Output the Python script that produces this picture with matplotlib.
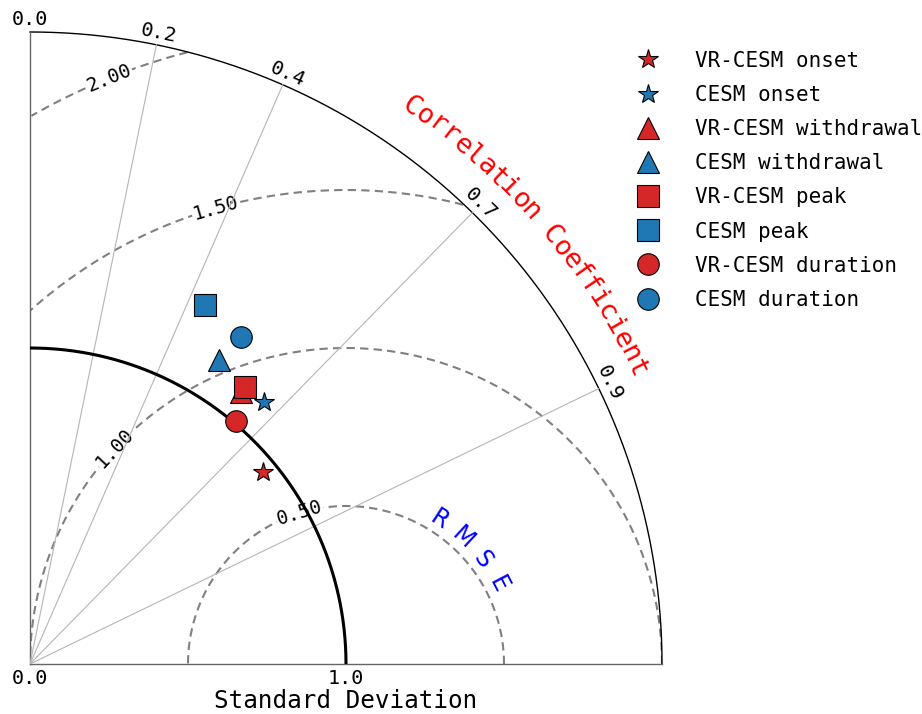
import numpy as np
import matplotlib.pyplot as plt

# Data
labels = ['VR-CESM onset', 'CESM onset',
          'VR-CESM withdrawal', 'CESM withdrawal',
          'VR-CESM peak', 'CESM peak',
          'VR-CESM duration', 'CESM duration']
std_vals = [0.955, 1.113, 1.089, 1.132, 1.110, 1.263, 1.009, 1.233]
corr_vals = [0.772, 0.666, 0.612, 0.529, 0.612, 0.439, 0.646, 0.542]
colors = ['#d62728', '#1f77b4'] * 4
markers = ['*', '*', '^', '^', 's', 's', 'o', 'o']

corr_ticks = [0.0, 0.2, 0.4, 0.7, 0.9]
rmse_levels = [0.5, 1.0, 1.5, 2.0]
rmse_label_angles = [107, 137, 106, 112]  # where the labels sit on each contour (deg)
std_max = 2.0
ref_std = 1.0

plt.rcParams['font.family'] = 'DejaVu Sans Mono'

fig = plt.figure(figsize=(9.22, 7.14), dpi=100)
ax = fig.add_axes([0.03254, 0.07003, 0.68547, 0.88515])
ax.set_xlim(0, std_max)
ax.set_ylim(0, std_max)
ax.axis('off')

# frame: outer arc and the two axes
th = np.linspace(0, np.pi / 2, 400)
ax.plot(std_max * np.cos(th), std_max * np.sin(th), color='black', lw=1.0, clip_on=False)
ax.plot([0, 0], [0, std_max], color='#666666', lw=1.0, clip_on=False)
ax.plot([0, std_max], [0, 0], color='#666666', lw=1.0, clip_on=False)

# reference std arc
ax.plot(ref_std * np.cos(th), ref_std * np.sin(th), color='black', lw=2.2, zorder=4)

# correlation lines and labels
for c in corr_ticks:
    a = np.arccos(c)
    if c > 0:
        ax.plot([0, std_max * np.cos(a)], [0, std_max * np.sin(a)],
                color='#b5b5b5', lw=0.8, zorder=3)
    r = std_max * 1.019
    ax.text(r * np.cos(a), r * np.sin(a), f'{c:.1f}', rotation=np.degrees(a) - 90,
            rotation_mode='anchor', ha='center', va='center', fontsize=14.5, clip_on=False)

# RMSE contours around the reference point
phi = np.linspace(0, np.pi, 800)
for lev, ang in zip(rmse_levels, rmse_label_angles):
    x = ref_std + lev * np.cos(phi)
    y = lev * np.sin(phi)
    mask = (np.hypot(x, y) > std_max + 1e-9) | (x < -1e-9)
    x[mask] = np.nan
    ax.plot(x, y, color='gray', lw=1.5, dashes=(4, 2.5), zorder=1)
    a = np.radians(ang)
    ax.text(ref_std + lev * np.cos(a), lev * np.sin(a), f'{lev:.2f}', rotation=ang - 90,
            rotation_mode='anchor', ha='center', va='center', fontsize=14, zorder=2,
            bbox=dict(fc='white', ec='none', pad=0.5))

# curved axis titles
title = 'Correlation Coefficient'
a0, a1, r_t = 55.6, 26.0, 2.135
for i, ch in enumerate(title):
    a = np.radians(a0 + (a1 - a0) * i / (len(title) - 1))
    ax.text(r_t * np.cos(a), r_t * np.sin(a), ch, rotation=np.degrees(a) - 90,
            rotation_mode='anchor', ha='center', va='center', fontsize=19.5,
            color='red', clip_on=False)

for ch, ang in zip('RMSE', [57, 47.2, 37.4, 27.5]):
    a = np.radians(ang)
    ax.text(ref_std + 0.545 * np.cos(a), 0.545 * np.sin(a), ch, rotation=ang - 90,
            rotation_mode='anchor', ha='center', va='center', fontsize=17,
            color='blue', family='DejaVu Sans')

# std axis labels
for v in [0.0, 1.0]:
    ax.text(v, -0.045, f'{v:.1f}', ha='center', va='center', fontsize=14.5, clip_on=False)
ax.text(1.0, -0.117, 'Standard Deviation', ha='center', va='center', fontsize=17.5, clip_on=False)

# data points
handles = []
for s, c, col, m, lab in zip(std_vals, corr_vals, colors, markers, labels):
    ms = 15 if m == '*' else 15.5
    h, = ax.plot(s * c, s * np.sqrt(1 - c ** 2), marker=m, ls='none', ms=ms,
                 color=col, mec='black', mew=0.8, label=lab, zorder=5)
    handles.append(h)

fig.legend(handles=handles, loc='upper left', bbox_to_anchor=(0.6803, 0.929),
           frameon=False, fontsize=15, labelspacing=0.68, handlelength=2.0,
           handletextpad=1.25, borderpad=0, borderaxespad=0)

plt.savefig('out.png', dpi=100)
